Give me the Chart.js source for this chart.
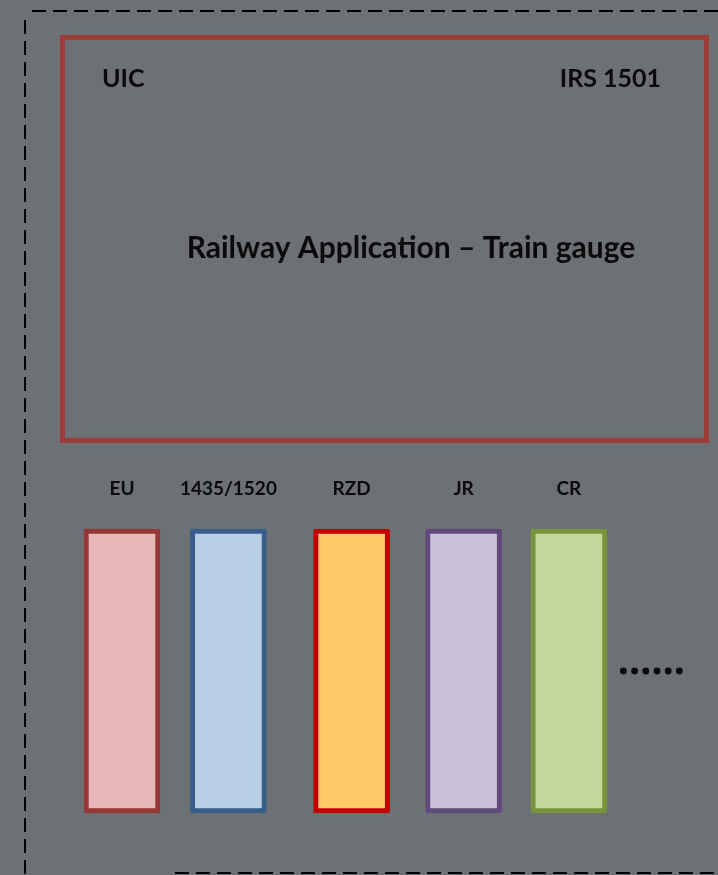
<!DOCTYPE html>
<html>
<head>
<meta charset="utf-8">
<script src="https://cdn.jsdelivr.net/npm/chart.js@4"></script>
<style>
  html, body { margin: 0; padding: 0; background: #6d7074; }
  #wrap { width: 718px; height: 875px; position: relative; }
</style>
</head>
<body>
<div id="wrap"><canvas id="chartGauge"></canvas></div>
<script>
// gauge families shown as columns under the IRS 1501 box
const categories = ['EU', '1435/1520', 'RZD', 'JR', 'CR'];
const positions = [1.0, 1.95, 3.05, 4.05, 4.99];
const heights = [10, 10, 10, 10, 10];
const fillColors = ['#e6b9b8', '#b9cde5', '#fec966', '#ccc1da', '#c3d69b'];
const edgeColors = ['#953735', '#385d8a', '#c00000', '#604a7b', '#77933c'];
const titleLeft = 'UIC';
const titleRight = 'IRS 1501';
const titleMain = 'Railway Application \u2013 Train gauge';

const FONT = 'Lato, "Open Sans", sans-serif';

// draws the slide decoration: dashed border, red frame, headings, labels, dots
const diagramPlugin = {
    id: 'diagram',
    beforeDraw(chart) {
        let ctx = chart.ctx;
        ctx.save();
        ctx.fillStyle = '#6d7074';
        ctx.fillRect(0, 0, chart.width, chart.height);

        // dashed outline
        ctx.strokeStyle = '#000000';
        ctx.lineWidth = 2;
        ctx.setLineDash([14, 7]);
        ctx.beginPath();
        ctx.moveTo(32, 11); ctx.lineTo(718, 11);
        ctx.moveTo(25, 20); ctx.lineTo(25, 875);
        ctx.moveTo(175, 873); ctx.lineTo(718, 873);
        ctx.stroke();
        ctx.setLineDash([]);

        // red frame
        ctx.strokeStyle = '#9b3b3a';
        ctx.lineWidth = 5;
        ctx.strokeRect(62.5, 37.5, 644, 403);

        ctx.fillStyle = '#0a0a0a';
        ctx.textBaseline = 'middle';
        ctx.font = 'bold 25px ' + FONT;
        ctx.textAlign = 'left';
        ctx.fillText(titleLeft, 102, 79);
        ctx.textAlign = 'right';
        ctx.fillText(titleRight, 661, 79);
        ctx.textAlign = 'center';
        ctx.font = 'bold 30px ' + FONT;
        ctx.fillText(titleMain, 411, 248);
        ctx.restore();
    },
    afterDatasetsDraw(chart) {
        let ctx = chart.ctx;
        let xs = chart.scales.x;
        let ys = chart.scales.y;
        ctx.save();
        ctx.fillStyle = '#0a0a0a';
        ctx.textAlign = 'center';
        ctx.textBaseline = 'middle';
        ctx.font = 'bold 19px ' + FONT;
        categories.forEach((c, i) => {
            ctx.fillText(c, xs.getPixelForValue(positions[i]), ys.getPixelForValue(11.4));
        });
        // "......" after the last column
        let x0 = xs.getPixelForValue(positions[positions.length - 1]) + 54.5;
        let yd = ys.getPixelForValue(5.0);
        for (let k = 0; k < 6; k++) {
            ctx.beginPath();
            ctx.arc(x0 + k * 11.2, yd, 3.4, 0, Math.PI * 2);
            ctx.fill();
        }
        ctx.restore();
    }
};

let ctxGauge = document.querySelector('#chartGauge').getContext('2d');
let chartGauge = new Chart(ctxGauge, {
    type: 'bar',
    data: {
        datasets: [{
            label: 'Gauges',
            data: positions.map((p, i) => ({ x: p, y: heights[i] })),
            backgroundColor: fillColors,
            borderColor: edgeColors,
            borderWidth: 5,
            borderSkipped: false,
            borderRadius: 2,
            barThickness: 76
        }]
    },
    options: {
        responsive: true,
        maintainAspectRatio: false,
        animation: false,
        plugins: {
            legend: { display: false },
            tooltip: { enabled: false }
        },
        scales: {
            x: {
                type: 'linear',
                display: false,
                offset: false,
                min: -0.0893,
                max: 6.3214
            },
            y: {
                display: false,
                min: -2.183,
                max: 28.627
            }
        },
        layout: {
            padding: 0
        }
    },
    plugins: [diagramPlugin]
});
</script>
</body>
</html>
